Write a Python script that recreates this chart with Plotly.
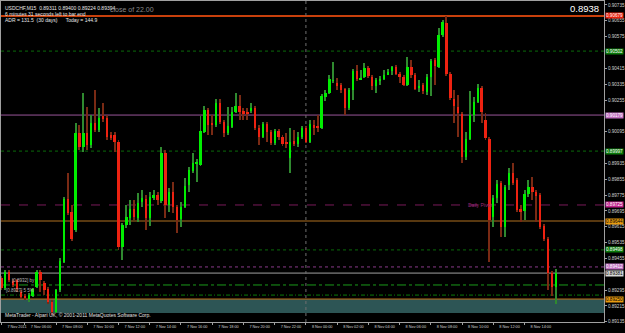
import pandas as pd
import plotly.graph_objects as go

# ---------------- data (USDCHF, M15) ----------------
first_bar = "2011-11-07 04:30"
opens = [0.89356,0.89306,0.89386,0.89341,0.89346,0.89285,0.89265,0.89250,0.89265,0.89311,
         0.89386,0.89331,0.89301,0.89235,0.89184,0.89296,0.89437,0.89755,0.89689,0.89599,
         0.90088,0.90018,0.90088,0.90028,0.90139,0.90104,0.90174,0.90164,0.90078,0.90078,
         0.90043,0.89513,0.89624,0.89659,0.89705,0.89659,0.89740,0.89755,0.89659,0.89765,
         0.89775,0.89745,0.89987,0.89725,0.89790,0.89715,0.89654,0.89715,0.89826,0.89896,
         0.89932,0.89927,0.90093,0.90205,0.90139,0.90129,0.90240,0.90144,0.90088,0.90119,
         0.90194,0.90225,0.90199,0.90194,0.90199,0.90215,0.90114,0.90068,0.90134,0.90093,
         0.90038,0.90098,0.90068,0.90038,0.89962,0.90048,0.90033,0.90068,0.90114,0.90043,
         0.90129,0.90119,0.90114,0.90270,0.90290,0.90351,0.90341,0.90331,0.90311,0.90215,
         0.90306,0.90401,0.90361,0.90371,0.90417,0.90371,0.90326,0.90356,0.90361,0.90386,
         0.90401,0.90422,0.90386,0.90371,0.90331,0.90422,0.90381,0.90316,0.90331,0.90295,
         0.90371,0.90457,0.90422,0.90583,0.90644,0.90386,0.90260,0.90220,0.90184,0.89967,
         0.90058,0.90179,0.90245,0.90316,0.90154,0.90058,0.89664,0.89760,0.89836,0.89614,
         0.89826,0.89886,0.89851,0.89705,0.89694,0.89780,0.89816,0.89790,0.89775,0.89619,
         0.89553,0.89381,0.89311]
highs = [0.89366,0.89396,0.89396,0.89351,0.89351,0.89296,0.89275,0.89280,0.89306,0.89396,
         0.89396,0.89341,0.89311,0.89245,0.89301,0.89457,0.89765,0.89886,0.89725,0.90139,
         0.90129,0.90290,0.90220,0.90179,0.90306,0.90215,0.90240,0.90179,0.90093,0.90093,
         0.90053,0.89634,0.89725,0.89750,0.89750,0.89785,0.89801,0.89775,0.89790,0.89801,
         0.89790,0.90018,0.90003,0.89811,0.89841,0.89725,0.89740,0.89861,0.89917,0.89987,
         0.89957,0.90174,0.90225,0.90215,0.90179,0.90260,0.90260,0.90154,0.90220,0.90220,
         0.90290,0.90280,0.90215,0.90215,0.90240,0.90225,0.90129,0.90144,0.90144,0.90104,
         0.90109,0.90109,0.90078,0.90088,0.90114,0.90104,0.90093,0.90124,0.90124,0.90154,
         0.90154,0.90179,0.90285,0.90306,0.90381,0.90447,0.90366,0.90341,0.90316,0.90316,
         0.90412,0.90432,0.90407,0.90442,0.90427,0.90381,0.90366,0.90376,0.90407,0.90412,
         0.90427,0.90432,0.90396,0.90381,0.90472,0.90457,0.90391,0.90356,0.90341,0.90386,
         0.90462,0.90467,0.90619,0.90659,0.90679,0.90396,0.90306,0.90280,0.90194,0.90093,
         0.90300,0.90270,0.90336,0.90326,0.90189,0.90068,0.89775,0.89851,0.89846,0.89826,
         0.89912,0.89937,0.89861,0.89725,0.89801,0.89851,0.89866,0.89801,0.89785,0.89629,
         0.89563,0.89391,0.89400]
lows = [0.89296,0.89296,0.89336,0.89311,0.89285,0.89250,0.89245,0.89235,0.89260,0.89306,
        0.89285,0.89270,0.89225,0.89169,0.89179,0.89285,0.89432,0.89674,0.89543,0.89588,
        0.90003,0.89992,0.90003,0.90013,0.90093,0.90093,0.90144,0.90053,0.90053,0.89992,
        0.89498,0.89447,0.89609,0.89624,0.89649,0.89639,0.89715,0.89599,0.89619,0.89750,
        0.89725,0.89735,0.89659,0.89689,0.89684,0.89583,0.89614,0.89710,0.89790,0.89886,
        0.89841,0.89922,0.90088,0.90078,0.90078,0.90119,0.90134,0.90068,0.90078,0.90114,
        0.90189,0.90154,0.90154,0.90154,0.90189,0.90104,0.90028,0.90063,0.90043,0.90028,
        0.90028,0.90053,0.90023,0.90013,0.89886,0.90023,0.90018,0.90058,0.90038,0.90038,
        0.90078,0.90093,0.90109,0.90250,0.90285,0.90341,0.90306,0.90290,0.90179,0.90205,
        0.90255,0.90351,0.90356,0.90366,0.90366,0.90306,0.90290,0.90331,0.90356,0.90381,
        0.90381,0.90381,0.90341,0.90326,0.90326,0.90366,0.90306,0.90295,0.90285,0.90280,
        0.90275,0.90331,0.90417,0.90573,0.90376,0.90255,0.90139,0.90068,0.89937,0.89952,
        0.90053,0.90144,0.90240,0.90139,0.90053,0.89437,0.89614,0.89735,0.89563,0.89563,
        0.89801,0.89826,0.89689,0.89639,0.89649,0.89765,0.89750,0.89639,0.89604,0.89543,
        0.89296,0.89265,0.89224]
closes = [0.89306,0.89386,0.89346,0.89321,0.89301,0.89260,0.89260,0.89270,0.89301,0.89386,
          0.89346,0.89296,0.89235,0.89184,0.89296,0.89442,0.89755,0.89684,0.89553,0.90088,
          0.90018,0.90088,0.90028,0.90139,0.90104,0.90164,0.90159,0.90068,0.90068,0.90043,
          0.89513,0.89624,0.89664,0.89705,0.89664,0.89735,0.89760,0.89659,0.89765,0.89775,
          0.89750,0.89987,0.89725,0.89790,0.89715,0.89649,0.89715,0.89821,0.89902,0.89937,
          0.89937,0.90098,0.90205,0.90129,0.90129,0.90240,0.90144,0.90088,0.90124,0.90194,
          0.90225,0.90194,0.90189,0.90189,0.90215,0.90114,0.90068,0.90134,0.90093,0.90038,
          0.90098,0.90068,0.90033,0.90033,0.90043,0.90033,0.90068,0.90114,0.90043,0.90134,
          0.90114,0.90114,0.90275,0.90290,0.90361,0.90356,0.90326,0.90306,0.90215,0.90306,
          0.90401,0.90361,0.90366,0.90417,0.90376,0.90326,0.90356,0.90361,0.90381,0.90396,
          0.90422,0.90386,0.90371,0.90331,0.90422,0.90381,0.90311,0.90326,0.90300,0.90371,
          0.90452,0.90427,0.90583,0.90649,0.90386,0.90265,0.90225,0.90189,0.89967,0.90058,
          0.90179,0.90245,0.90316,0.90194,0.90063,0.89649,0.89760,0.89831,0.89614,0.89816,
          0.89886,0.89836,0.89700,0.89689,0.89780,0.89816,0.89790,0.89770,0.89614,0.89553,
          0.89381,0.89311,0.89381]

tick_times = ["2011-11-07 04:30", "2011-11-07 06:00", "2011-11-07 08:00", "2011-11-07 10:00",
              "2011-11-07 12:00", "2011-11-07 14:00", "2011-11-07 16:00", "2011-11-07 18:00",
              "2011-11-07 20:00", "2011-11-07 22:00", "2011-11-08 00:00", "2011-11-08 02:00",
              "2011-11-08 04:00", "2011-11-08 06:00", "2011-11-08 08:00", "2011-11-08 10:00",
              "2011-11-08 12:00", "2011-11-08 14:00"]
tick_labels = ["7 Nov 2011", "7 Nov 06:00", "7 Nov 08:00", "7 Nov 10:00", "7 Nov 12:00",
               "7 Nov 14:00", "7 Nov 16:00", "7 Nov 18:00", "7 Nov 20:00", "7 Nov 22:00",
               "8 Nov 00:00", "8 Nov 02:00", "8 Nov 04:00", "8 Nov 06:00", "8 Nov 08:00",
               "8 Nov 10:00", "8 Nov 12:00", "8 Nov 14:00"]
# price scale labels (those hidden behind level tags are left out)
price_ticks = [0.90735, 0.90655, 0.90575, 0.90415, 0.90335, 0.90255,
               0.90095, 0.89935, 0.89855, 0.89775, 0.89695, 0.89615, 0.89535,
               0.89455, 0.89295, 0.89215, 0.89135]
day_separator = "2011-11-08 00:00"

# horizontal levels
level_prices = [0.90679, 0.90502, 0.90179, 0.89997, 0.89725, 0.89644, 0.89498,
                0.89412, 0.89381, 0.89321, 0.89270, 0.89250]
zone_low, zone_high = 0.89179, 0.89250
bid_price = "0.8938"
line_notes = [("[0.8932] by", 0.89342), ("[0.8927] 5 5%", 0.89291)]

header = ["USDCHF,M15  0.89311 0.89400 0.89224 0.89394",
          "6 minutes 31 seconds left to bar end",
          "ADR = 131.5  (30 days)      Today = 144.9"]

# ---------------- styling ----------------
level_styles = [
    dict(color="#c8400c", width=2, dash="solid", tag="#e8200c", tagfont="white", shift=1),
    dict(color="#0a6a0a", width=1, dash="dot", tag="#0a7a0a", tagfont="white", shift=0),
    dict(color="#9a569a", width=1, dash="solid", tag="#c070c0", tagfont="white", shift=0),
    dict(color="#0a6a0a", width=1, dash="dot", tag="#0a7a0a", tagfont="white", shift=0),
    dict(color="#7a1a5a", width=1, dash="dash", tag="#c0208a", tagfont="white", shift=0),
    dict(color="#b07020", width=1, dash="solid", tag="#e89a10", tagfont="black", shift=0),
    dict(color="#0a6a0a", width=1, dash="dot", tag="#0a7a0a", tagfont="white", shift=0),
    dict(color="#8a3a8a", width=1, dash="dot", tag="#c070c0", tagfont="white", shift=0),
    dict(color="#a0a0a0", width=1, dash="solid", tag="#d8d8d8", tagfont="black", shift=0),
    dict(color="#1a9a1a", width=1, dash="dashdot", tag=None, tagfont=None, shift=0),
    dict(color="#0a7a0a", width=1, dash="4px,2px,1px,2px", tag=None, tagfont=None, shift=0),
    dict(color="#c07018", width=1, dash="solid", tag="#e89a10", tagfont="black", shift=0),
]

FONT = "Liberation Sans"
bar_ms = 15 * 60 * 1000
times = pd.date_range(first_bar, periods=len(opens), freq="15min")
t0 = times[0]
step = pd.Timedelta(minutes=15)

bull = [c >= o for o, c in zip(opens, closes)]
body_base = [min(o, c) for o, c in zip(opens, closes)]
body_len = [max(abs(c - o), 0.00003) for o, c in zip(opens, closes)]
wick_len = [h - l for h, l in zip(highs, lows)]

fig = go.Figure()
fig.add_trace(go.Bar(
    x=times, y=wick_len, base=lows, width=bar_ms * 0.25,
    marker=dict(color=["#2f8a2f" if b else "#7a2a14" for b in bull], line=dict(width=0)),
    hoverinfo="skip", showlegend=False))
fig.add_trace(go.Bar(
    x=times, y=body_len, base=body_base, width=bar_ms * 0.6,
    marker=dict(color=["#00ee00" if b else "#ee2211" for b in bull], line=dict(width=0)),
    showlegend=False))

shapes = []
shapes.append(dict(type="rect", xref="paper", x0=0, x1=1, yref="y", y0=zone_low, y1=zone_high,
                   fillcolor="#2d5555", line=dict(width=0), layer="below"))
for p, st in zip(level_prices, level_styles):
    shapes.append(dict(type="line", xref="paper", x0=0, x1=1, yref="y", y0=p, y1=p,
                       line=dict(color=st["color"], width=st["width"], dash=st["dash"]),
                       layer="below"))
shapes.append(dict(type="line", xref="x", x0=day_separator, x1=day_separator, yref="paper",
                   y0=0, y1=1, line=dict(color="#707070", width=1, dash="dot"), layer="below"))

ann = []
for p, st in zip(level_prices, level_styles):
    if st["tag"]:
        ann.append(dict(xref="paper", x=1, xanchor="left", xshift=1, yref="y", y=p,
                        yanchor="middle", yshift=st["shift"], text=f"{p:.5f}", showarrow=False,
                        bgcolor=st["tag"], borderpad=0,
                        font=dict(family=FONT, size=4.6, color=st["tagfont"])))
for k, line in enumerate(header):
    ann.append(dict(xref="paper", x=0, xanchor="left", xshift=2, yref="paper", y=1,
                    yanchor="top", yshift=-2 - 6 * k, text=line, showarrow=False,
                    font=dict(family=FONT, size=5, color="#e8e8e8")))
for k, (txt, p) in enumerate(line_notes):
    ann.append(dict(xref="paper", x=0, xanchor="left", xshift=3 + 6 * (1 - k), yref="y", y=p,
                    yanchor="middle", text=txt, showarrow=False,
                    font=dict(family=FONT, size=4.5, color="#b8b8b8")))
ann.append(dict(xref="paper", x=0, xanchor="left", xshift=107, yref="paper", y=1, yanchor="top",
                yshift=-3, text="close of 22.00", showarrow=False,
                font=dict(family=FONT, size=7, color="#8a8a8a")))
ann.append(dict(xref="paper", x=1, xanchor="right", xshift=-3, yref="paper", y=1, yanchor="top",
                yshift=0, text=bid_price, showarrow=False,
                font=dict(family=FONT, size=9.5, color="white")))
ann.append(dict(xref="x", x=times[119], xanchor="left", yref="y", y=level_prices[4],
                yanchor="middle", text="Daily Pivot", showarrow=False,
                font=dict(family=FONT, size=5, color="#9a2a7a")))
ann.append(dict(xref="paper", x=0, xanchor="left", xshift=2, yref="paper", y=0, yanchor="bottom",
                yshift=2, text="MetaTrader - Alpari UK, \u00a9 2001-2011 MetaQuotes Software Corp.",
                showarrow=False, font=dict(family=FONT, size=5, color="#e0e0e0")))

fig.update_layout(
    width=625, height=333, margin=dict(l=0, r=18, t=1, b=11),
    paper_bgcolor="black", plot_bgcolor="black",
    barmode="overlay", bargap=0, showlegend=False,
    shapes=shapes, annotations=ann,
    font=dict(family=FONT, size=5, color="#d0d0d0"),
)
fig.update_xaxes(
    type="date", range=[t0 - 0.1 * step, t0 + 154.35 * step],
    tickvals=pd.to_datetime(tick_times), ticktext=tick_labels, tickangle=0,
    ticks="outside", ticklen=2, tickcolor="#a0a0a0", ticklabelposition="outside right",
    ticklabelshift=5,
    tickfont=dict(family=FONT, size=3.8, color="#d0d0d0"),
    showgrid=False, zeroline=False, showline=True, linecolor="#a0a0a0", linewidth=1,
    mirror=True, fixedrange=True,
)
fig.update_yaxes(
    side="right", range=[0.89134, 0.90755], tickvals=price_ticks,
    ticktext=[f"{v:.5f}" for v in price_ticks], ticks="outside", ticklen=2,
    tickcolor="#a0a0a0", tickfont=dict(family=FONT, size=4.6, color="#d0d0d0"),
    showgrid=False, zeroline=False, showline=True, linecolor="#a0a0a0", linewidth=1,
    mirror=True, fixedrange=True,
)
fig.write_html("out.html")
